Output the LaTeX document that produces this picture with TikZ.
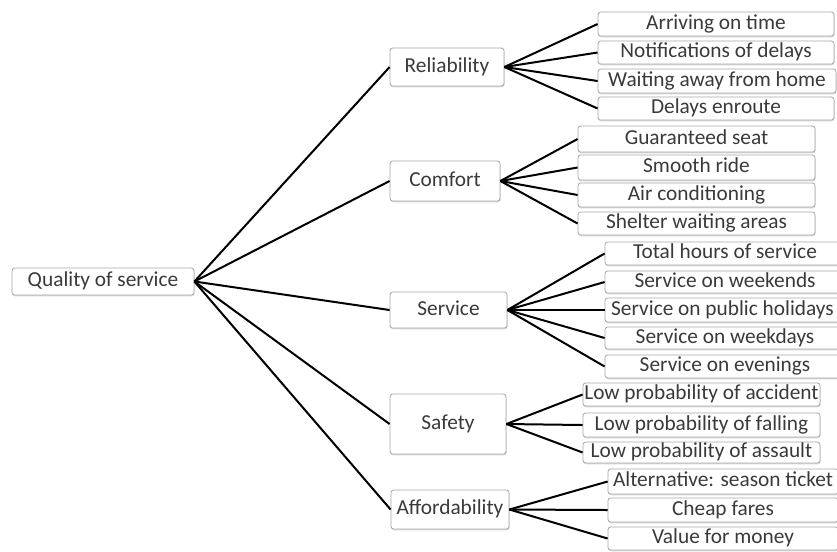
\documentclass[tikz,border=0pt]{standalone}
\usepackage{fontspec}
\setmainfont{Carlito}
\usetikzlibrary{shadows}
\definecolor{txt}{HTML}{3A3A3A}
\definecolor{frame}{HTML}{A8A8A8}
\tikzset{
  box/.style={draw=frame, line width=0.6pt, rounded corners=2pt, fill=white,
    inner sep=0pt, text=txt, font=\fontsize{16}{18}\selectfont,
    text height=11.2pt, text depth=3.4pt,
    drop shadow={shadow xshift=0.4pt, shadow yshift=-1pt, opacity=0.25, fill=black!60}},
  link/.style={line width=1.5pt, black},
}
% box given by its left, top, right and bottom edges (in pixel units)
\newcommand\boxnode[6]{%
  \node[box, minimum width={(#3-#1)*0.75pt}, minimum height={(#4-#2)*0.75pt}]
    (#5) at ({(#1+#3)/2},{(#2+#4)/2}) {#6};}
\begin{document}
\begin{tikzpicture}[x=0.75pt,y=-0.75pt]
\clip (0,0) rectangle (837,551);
\fill[white] (0,0) rectangle (837,551);

% root
\boxnode{12}{268}{194}{295}{root}{Quality of service}

% categories
\boxnode{390}{48}{504}{86}{rel}{Reliability}
\boxnode{390}{161}{500}{201}{com}{Comfort}
\boxnode{390}{292}{507}{328}{ser}{Service}
\boxnode{390}{394}{506}{454}{saf}{Safety}
\boxnode{391}{490}{509}{529}{aff}{Affordability}

% reliability items
\boxnode{598}{12}{834}{36}{r1}{Arriving on time}
\boxnode{598}{41}{834}{64}{r2}{Notifications of delays}
\boxnode{598}{69}{836}{93}{r3}{Waiting away from home}
\boxnode{598}{97}{834}{120}{r4}{Delays enroute}

% comfort items
\boxnode{578}{126}{815}{152}{c1}{Guaranteed seat}
\boxnode{578}{155}{815}{180}{c2}{Smooth ride}
\boxnode{578}{183}{815}{207}{c3}{Air conditioning}
\boxnode{578}{212}{815}{235}{c4}{Shelter waiting areas}

% service items
\boxnode{605}{242}{845}{265}{s1}{Total hours of service}
\boxnode{605}{271}{845}{293}{s2}{Service on weekends}
\boxnode{605}{298}{840}{322}{s3}{Service on public holidays}
\boxnode{605}{327}{845}{349}{s4}{Service on weekdays}
\boxnode{605}{355}{845}{378}{s5}{Service on evenings}

% safety items
\boxnode{583}{383}{820}{406}{f1}{Low probability of accident}
\boxnode{583}{413}{820}{437}{f2}{Low probability of falling}
\boxnode{583}{442}{820}{463}{f3}{Low probability of assault}

% affordability items
\boxnode{608}{469}{838}{494}{a1}{Alternative: season ticket}
\boxnode{608}{498}{838}{522}{a2}{Cheap fares}
\boxnode{608}{527}{838}{550}{a3}{Value for money}

% connectors
\foreach \c in {rel,com,ser,saf,aff}
  \draw[link] (root.east) -- (\c.west);
\foreach \i in {r1,r2,r3,r4}
  \draw[link] (rel.east) -- (\i.west);
\foreach \i in {c1,c2,c3,c4}
  \draw[link] (com.east) -- (\i.west);
\foreach \i in {s1,s2,s3,s4,s5}
  \draw[link] (ser.east) -- (\i.west);
\foreach \i in {f1,f2,f3}
  \draw[link] (saf.east) -- (\i.west);
\foreach \i in {a1,a2,a3}
  \draw[link] (aff.east) -- (\i.west);
\end{tikzpicture}
\end{document}
